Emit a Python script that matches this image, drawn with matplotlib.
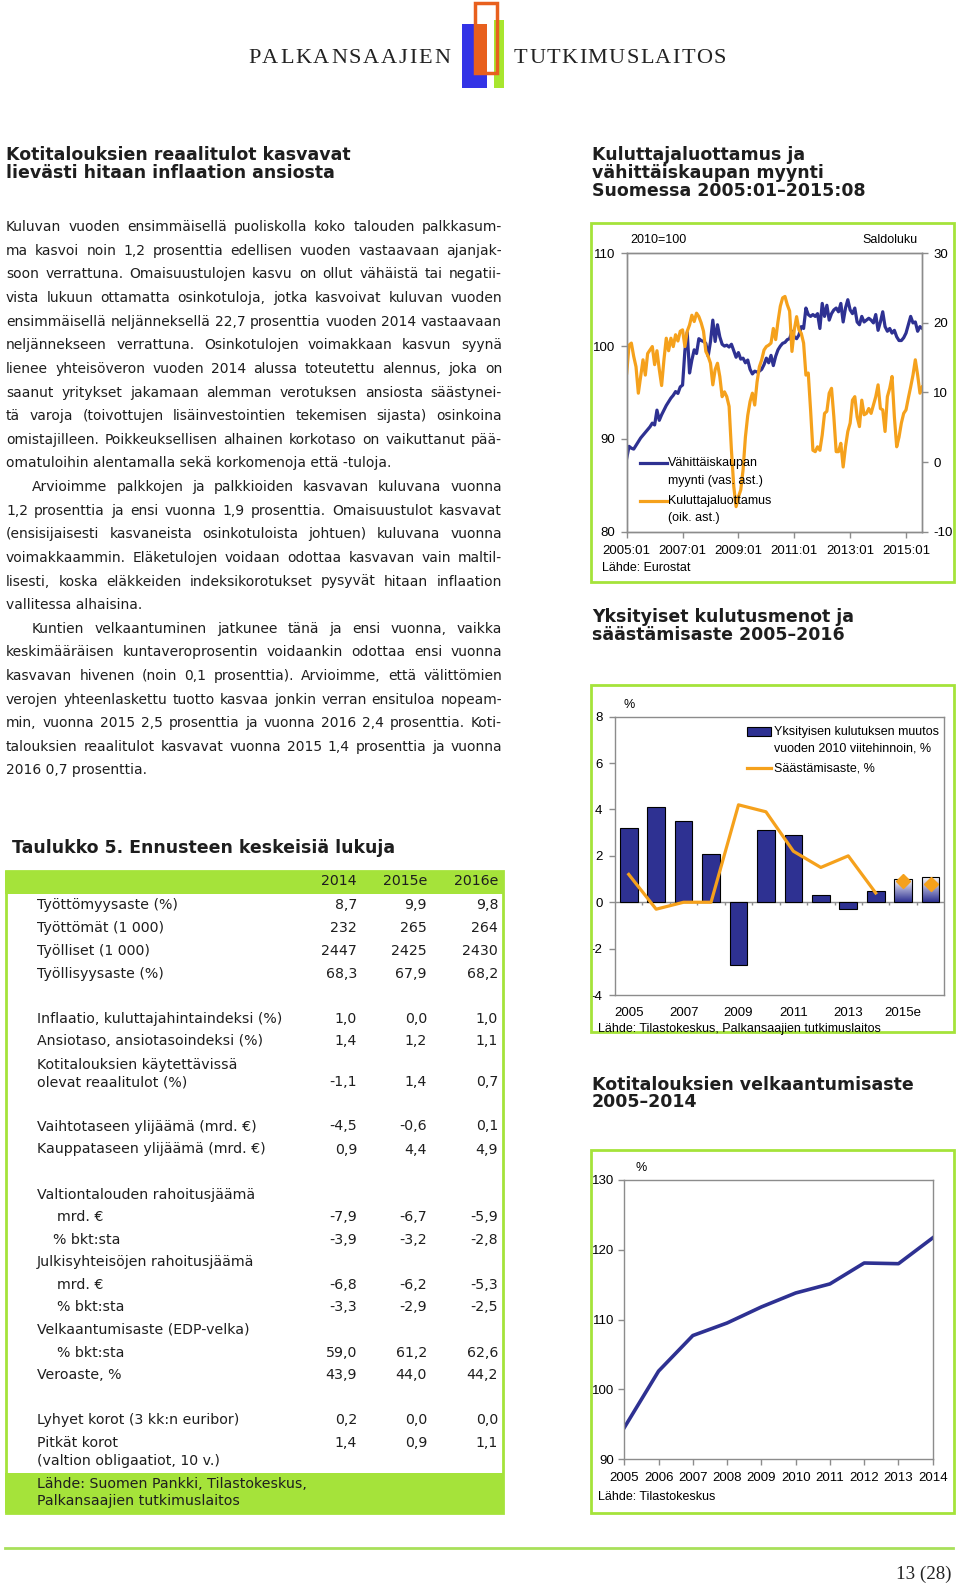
import numpy as np
import matplotlib
matplotlib.use("Agg")
import matplotlib.pyplot as plt
from matplotlib.patches import Rectangle
from matplotlib.lines import Line2D
from matplotlib.colors import LinearSegmentedColormap

plt.rcParams["axes.unicode_minus"] = False

# ---------------- data ----------------
# retail sales volume 2010=100, monthly 2005:01-2015:08
retail = [87.9, 89.2, 89.0, 88.9, 89.3, 89.7, 90.1, 90.4, 90.7, 91.0, 91.3, 91.7,
          91.5, 93.1, 92.0, 92.6, 93.1, 93.6, 94.0, 94.4, 94.7, 95.1, 94.9, 95.6,
          95.8, 99.5, 101.5, 97.1, 98.5, 99.6, 99.2, 100.8, 100.6, 100.5, 100.3, 98.9,
          100.5, 102.8, 100.5, 102.3, 101.0, 100.2, 100.0, 100.1, 99.9, 100.2, 99.5, 98.8,
          99.3, 98.6, 98.7, 98.2, 98.5, 97.5, 97.0, 97.3, 97.2, 97.3, 97.5, 98.0,
          98.7, 98.2, 99.0, 97.9, 98.9, 99.6, 100.0, 100.3, 100.4, 100.7, 100.8, 101.6,
          101.0, 100.8, 101.2, 102.1, 101.9, 104.1, 103.4, 103.2, 103.4, 103.2, 103.5, 101.9,
          104.6, 103.2, 104.4, 102.8, 103.5, 103.9, 104.1, 103.7, 104.6, 102.6, 104.1, 105.0,
          103.9, 103.5, 104.1, 102.6, 102.3, 103.2, 102.6, 102.8, 103.0, 102.8, 102.5, 103.4,
          101.7, 102.6, 103.7, 102.1, 101.6, 101.9, 101.4, 101.7, 101.0, 100.6, 100.6, 100.9,
          101.4, 102.3, 103.2, 102.5, 102.6, 101.6, 102.1, 101.9]
# consumer confidence, balance
confidence = [12.8, 16.8, 17.1, 15.2, 13.7, 9.9, 12.3, 14.7, 12.5, 15.6, 16.1, 16.6,
              14.0, 16.0, 13.3, 11.0, 14.7, 17.8, 16.0, 17.8, 16.6, 18.3, 17.4, 18.8,
              19.0, 16.6, 18.8, 19.7, 21.1, 20.2, 21.4, 20.9, 20.0, 18.8, 15.9, 15.2,
              14.2, 11.1, 13.3, 14.2, 12.3, 9.4, 10.1, 9.4, 8.0, 1.7, -3.5, -6.4,
              -5.0, -4.0, -1.1, 3.6, 6.7, 8.7, 9.9, 8.2, 11.5, 13.7, 14.7, 16.1,
              16.6, 16.8, 17.1, 19.2, 17.6, 20.2, 22.4, 23.6, 23.8, 22.6, 21.7, 15.9,
              19.0, 20.9, 19.0, 18.5, 17.1, 12.5, 12.8, 7.5, 1.7, 1.5, 2.2, 1.7,
              3.9, 7.0, 7.3, 9.9, 10.6, 6.5, 1.5, 1.5, 2.7, -0.7, 2.2, 4.4,
              5.6, 8.9, 9.4, 6.5, 5.1, 8.9, 6.8, 7.0, 7.7, 7.0, 8.2, 9.4,
              11.1, 7.7, 7.5, 4.4, 9.4, 10.6, 12.3, 6.5, 2.2, 3.6, 5.6, 7.0,
              7.5, 9.2, 10.8, 12.5, 14.7, 12.5, 9.9, 10.8]
month_ticks = ["2005:01", "2007:01", "2009:01", "2011:01", "2013:01", "2015:01"]

cons_years = ["2005", "2006", "2007", "2008", "2009", "2010", "2011", "2012",
              "2013", "2014", "2015e", "2016e"]
cons_change = [3.2, 4.1, 3.5, 2.1, -2.7, 3.1, 2.9, 0.3, -0.3, 0.5, 1.0, 1.1]
saving_rate = [1.2, -0.3, 0.0, 0.0, 4.2, 3.9, 2.2, 1.5, 2.0, 0.4]
saving_est = [0.9, 0.8]

debt_years = [2005, 2006, 2007, 2008, 2009, 2010, 2011, 2012, 2013, 2014]
debt_ratio = [94.5, 102.6, 107.7, 109.5, 111.8, 113.8, 115.1, 118.1, 118.0, 121.7]

table_cols = ["2014", "2015e", "2016e"]
table_labels = ["Työttömyysaste (%)", "Työttömät (1 000)", "Työlliset (1 000)",
                "Työllisyysaste (%)", "Inflaatio, kuluttajahintaindeksi (%)",
                "Ansiotaso, ansiotasoindeksi (%)", "Kotitalouksien käytettävissä",
                "olevat reaalitulot (%)", "Vaihtotaseen ylijäämä (mrd. €)",
                "Kauppataseen ylijäämä (mrd. €)", "Valtiontalouden rahoitusjäämä",
                "mrd. €", "% bkt:sta", "Julkisyhteisöjen rahoitusjäämä", "mrd. €",
                "% bkt:sta", "Velkaantumisaste (EDP-velka)", "% bkt:sta", "Veroaste, %",
                "Lyhyet korot (3 kk:n euribor)", "Pitkät korot",
                "(valtion obligaatiot, 10 v.)"]
val_2014 = ["8,7", "232", "2447", "68,3", "1,0", "1,4", "", "-1,1", "-4,5", "0,9", "",
            "-7,9", "-3,9", "", "-6,8", "-3,3", "", "59,0", "43,9", "0,2", "1,4", ""]
val_2015 = ["9,9", "265", "2425", "67,9", "0,0", "1,2", "", "1,4", "-0,6", "4,4", "",
            "-6,7", "-3,2", "", "-6,2", "-2,9", "", "61,2", "44,0", "0,0", "0,9", ""]
val_2016 = ["9,8", "264", "2430", "68,2", "1,0", "1,1", "", "0,7", "0,1", "4,9", "",
            "-5,9", "-2,8", "", "-5,3", "-2,5", "", "62,6", "44,2", "0,0", "1,1", ""]

body_lines = [
    "Kuluvan vuoden ensimmäisellä puoliskolla koko talouden palkkasum-",
    "ma kasvoi noin 1,2 prosenttia edellisen vuoden vastaavaan ajanjak-",
    "soon verrattuna. Omaisuustulojen kasvu on ollut vähäistä tai negatii-",
    "vista lukuun ottamatta osinkotuloja, jotka kasvoivat kuluvan vuoden",
    "ensimmäisellä neljänneksellä 22,7 prosenttia vuoden 2014 vastaavaan",
    "neljännekseen verrattuna. Osinkotulojen voimakkaan kasvun syynä",
    "lienee yhteisöveron vuoden 2014 alussa toteutettu alennus, joka on",
    "saanut yritykset jakamaan alemman verotuksen ansiosta säästynei-",
    "tä varoja (toivottujen lisäinvestointien tekemisen sijasta) osinkoina",
    "omistajilleen. Poikkeuksellisen alhainen korkotaso on vaikuttanut pää-",
    "omatuloihin alentamalla sekä korkomenoja että -tuloja.",
    "Arvioimme palkkojen ja palkkioiden kasvavan kuluvana vuonna",
    "1,2 prosenttia ja ensi vuonna 1,9 prosenttia. Omaisuustulot kasvavat",
    "(ensisijaisesti kasvaneista osinkotuloista johtuen) kuluvana vuonna",
    "voimakkaammin. Eläketulojen voidaan odottaa kasvavan vain maltil-",
    "lisesti, koska eläkkeiden indeksikorotukset pysyvät hitaan inflaation",
    "vallitessa alhaisina.",
    "Kuntien velkaantuminen jatkunee tänä ja ensi vuonna, vaikka",
    "keskimääräisen kuntaveroprosentin voidaankin odottaa ensi vuonna",
    "kasvavan hivenen (noin 0,1 prosenttia). Arvioimme, että välittömien",
    "verojen yhteenlaskettu tuotto kasvaa jonkin verran ensituloa nopeam-",
    "min, vuonna 2015 2,5 prosenttia ja vuonna 2016 2,4 prosenttia. Koti-",
    "talouksien reaalitulot kasvavat vuonna 2015 1,4 prosenttia ja vuonna",
    "2016 0,7 prosenttia.",
]
indent_lines = [11, 17]
last_lines = [10, 16, 23]

# ---------------- page ----------------
W, H = 960, 1583
fig = plt.figure(figsize=(W / 100, H / 100), dpi=100)
fig.patch.set_facecolor("white")
renderer = fig.canvas.get_renderer()

blue = "#2E3192"
orange = "#F5A11C"
lime = "#A5E33A"
frame = "#8C8C8C"
ink = "#1E1E1E"
chart_font, chart_size = "Liberation Sans", 9.5


def fx(x):
    return x / W


def fy(y):
    return 1 - y / H


def txt(x, y, s, **kw):
    return fig.text(fx(x), fy(y), s, **kw)


def rect(x0, y0, x1, y1, **kw):
    r = Rectangle((fx(x0), fy(y1)), (x1 - x0) / W, (y1 - y0) / H,
                  transform=fig.transFigure, **kw)
    fig.add_artist(r)
    return r


def seg(x0, x1, y, **kw):
    fig.add_artist(Line2D([fx(x0), fx(x1)], [fy(y), fy(y)],
                          transform=fig.transFigure, **kw))


def width_px(s, **kw):
    t = fig.text(0, 0, s, **kw)
    w = t.get_window_extent(renderer=renderer).width
    t.remove()
    return w


def add_ax(x0, y0, x1, y1):
    return fig.add_axes([fx(x0), fy(y1), (x1 - x0) / W, (y1 - y0) / H])


def style(ax, pad=4.0):
    for s in ax.spines.values():
        s.set_color(frame)
        s.set_linewidth(1)
    ax.tick_params(direction="out", length=4, width=1, color=frame, pad=pad,
                   labelsize=chart_size, labelcolor="black")
    for lab in ax.get_xticklabels() + ax.get_yticklabels():
        lab.set_family(chart_font)


# logo
rect(462, 24, 487, 88, facecolor="#3333E6", edgecolor="none")
rect(494, 20, 504, 88, facecolor="#A8E62E", edgecolor="none")
rect(475, 3, 497, 73, facecolor="none", edgecolor="#E8601E", lw=2.5)
rect(475, 24, 487, 73, facecolor="#E8601E", edgecolor="none")
logo_kw = dict(family="Liberation Serif", fontsize=16, color="#222222", va="baseline")
for word, x0, x1 in [("PALKANSAAJIEN", 248, 450), ("TUTKIMUSLAITOS", 514, 726)]:
    cw = [width_px(ch, **logo_kw) for ch in word]
    track = (x1 - x0 - sum(cw)) / (len(word) - 1)
    x = x0
    for ch, w in zip(word, cw):
        txt(x, 63, ch, **logo_kw)
        x += w + track

# headings
head_kw = dict(family="DejaVu Sans", fontsize=12.5, fontweight="bold", color=ink, va="baseline")
txt(6, 160, "Kotitalouksien reaalitulot kasvavat", **head_kw)
txt(6, 178, "lievästi hitaan inflaation ansiosta", **head_kw)
txt(592, 160, "Kuluttajaluottamus ja", **head_kw)
txt(592, 178, "vähittäiskaupan myynti", **head_kw)
txt(592, 196, "Suomessa 2005:01–2015:08", **head_kw)
txt(592, 622, "Yksityiset kulutusmenot ja", **head_kw)
txt(592, 640, "säästämisaste 2005–2016", **head_kw)
txt(592, 1090, "Kotitalouksien velkaantumisaste", **head_kw)
txt(592, 1107, "2005–2014", **head_kw)

# body text, justified
body_kw = dict(family="DejaVu Sans", fontsize=10.0, color=ink, va="baseline")
for i, line in enumerate(body_lines):
    yb = 226.7 + i * 23.62 + 4.5
    x0 = 32 if i in indent_lines else 6
    if i in last_lines:
        txt(x0, yb, line, **body_kw)
        continue
    words = line.split(" ")
    ws = [width_px(w, **body_kw) for w in words]
    gap = (502 - x0 - sum(ws)) / (len(words) - 1)
    x = x0
    for w, wd in zip(words, ws):
        txt(x, yb, w, **body_kw)
        x += wd + gap

# table
txt(12, 853, "Taulukko 5. Ennusteen keskeisiä lukuja", **head_kw)
rect(5, 871, 504, 894, facecolor=lime, edgecolor="none")
rect(5, 1473, 504, 1513, facecolor=lime, edgecolor="none")
rect(6, 871, 503, 1513, facecolor="none", edgecolor=lime, lw=2)
tab_kw = dict(family="DejaVu Sans", fontsize=10.2, color=ink, va="baseline")
col_right = [357, 427, 498]
for c, xr in zip(table_cols, col_right):
    txt(xr, 885, c, ha="right", **tab_kw)
row_y = [904.3, 927.5, 950.5, 973.5, 1018.3, 1040.7, 1064, 1081.7, 1126, 1149,
         1194, 1216.7, 1239.3, 1261.7, 1284.3, 1306.7, 1329.3, 1352.3, 1374.3,
         1419.3, 1442.7, 1460]
row_x = [36.7] * len(table_labels)
for k in (11, 14, 15, 17):
    row_x[k] = 57
row_x[12] = 52.7
for lab, y, x, a, b, c in zip(table_labels, row_y, row_x, val_2014, val_2015, val_2016):
    txt(x, y + 4.5, lab, **tab_kw)
    for v, xr in zip((a, b, c), col_right):
        if v:
            txt(xr, y + 4.5, v, ha="right", **tab_kw)
txt(36.7, 1487.8, "Lähde: Suomen Pankki, Tilastokeskus,", **tab_kw)
txt(36.7, 1505.2, "Palkansaajien tutkimuslaitos", **tab_kw)

# footer
seg(5, 953, 1548, color="#A8E05A", lw=2)
txt(952, 1579, "13 (28)", family="Liberation Serif", fontsize=13.6, ha="right",
    va="baseline", color="#222222")

lab_kw = dict(family=chart_font, fontsize=9, color="black", va="center")

# ---------------- chart 1 ----------------
rect(591, 223, 954, 582, facecolor="none", edgecolor=lime, lw=2)
months = np.arange(len(retail))
ax1 = add_ax(626.7, 253.3, 922.3, 531.7)
ax1b = ax1.twinx()
ax1.plot(months, retail, color=blue, lw=2.3)
ax1b.plot(months, confidence, color=orange, lw=2.3)
ax1.set_xlim(0, len(retail) - 1)
ax1.set_ylim(80, 110)
ax1b.set_ylim(-10, 30)
ax1.set_yticks([80, 90, 100, 110])
ax1b.set_yticks([-10, 0, 10, 20, 30])
ax1.set_xticks(np.arange(0, len(retail), 24))
ax1.set_xticklabels(month_ticks)
style(ax1)
style(ax1b)
ax1.tick_params(axis="x", pad=5.5)
txt(630, 240, "2010=100", **lab_kw)
txt(918, 240, "Saldoluku", ha="right", **lab_kw)
txt(602, 568, "Lähde: Eurostat", **lab_kw)
seg(640, 667, 463.3, color=blue, lw=2.3)
txt(668, 463.3, "Vähittäiskaupan", **lab_kw)
txt(668, 481, "myynti (vas. ast.)", **lab_kw)
seg(640, 667, 501, color=orange, lw=2.3)
txt(668, 501, "Kuluttajaluottamus", **lab_kw)
txt(668, 518.3, "(oik. ast.)", **lab_kw)

# ---------------- chart 2 ----------------
rect(591, 685, 954, 1032, facecolor="none", edgecolor=lime, lw=2)
ax2 = add_ax(615, 716.7, 944.3, 995)
xpos = np.arange(len(cons_years))
bw = 0.645
bars = ax2.bar(xpos, cons_change, width=bw, color=blue, edgecolor="black", lw=0.8, zorder=3)
grad = LinearSegmentedColormap.from_list("grad", [blue, "white"])
for i in (10, 11):
    b = bars[i]
    b.set_facecolor("none")
    im = ax2.imshow(np.linspace(0, 1, 64).reshape(-1, 1), cmap=grad, origin="lower",
                    aspect="auto", extent=(xpos[i] - bw / 2, xpos[i] + bw / 2, 0, cons_change[i]),
                    zorder=2.5)
    im.set_clip_path(b)
ax2.axhline(0, color=frame, lw=1, zorder=2)
ax2.vlines(xpos[:-1] + 0.5, -0.12, 0, color=frame, lw=1, zorder=2)
ax2.plot(xpos[:len(saving_rate)], saving_rate, color=orange, lw=2.3, zorder=4)
ax2.plot(xpos[len(saving_rate):], saving_est, ls="none", marker="D", ms=7,
         color=orange, zorder=5)
ax2.set_xlim(-0.5, len(cons_years) - 0.5)
ax2.set_ylim(-4, 8)
ax2.set_yticks(np.arange(-4, 9, 2))
ax2.set_xticks(xpos[::2])
ax2.set_xticklabels(cons_years[::2])
style(ax2, pad=5.0)
ax2.tick_params(axis="x", length=0, pad=9)
txt(623, 705, "%", **lab_kw)
rect(747.3, 726.7, 770.7, 735.7, facecolor=blue, edgecolor="black", lw=0.8)
txt(774, 731.7, "Yksityisen kulutuksen muutos", **lab_kw)
txt(774, 748.3, "vuoden 2010 viitehinnoin, %", **lab_kw)
seg(747.3, 770.7, 768.3, color=orange, lw=2.3)
txt(774, 768.3, "Säästämisaste, %", **lab_kw)
txt(598, 1029, "Lähde: Tilastokeskus, Palkansaajien tutkimuslaitos", **lab_kw)

# ---------------- chart 3 ----------------
rect(591, 1150, 954, 1513, facecolor="none", edgecolor=lime, lw=2)
ax3 = add_ax(624.3, 1180, 932.7, 1459)
ax3.plot(debt_years, debt_ratio, color=blue, lw=2.6)
ax3.set_xlim(debt_years[0], debt_years[-1])
ax3.set_ylim(90, 130)
ax3.set_yticks(np.arange(90, 131, 10))
ax3.set_xticks(debt_years)
style(ax3, pad=3.5)
ax3.tick_params(axis="x", pad=5.5)
txt(635, 1168.3, "%", **lab_kw)
txt(598, 1497, "Lähde: Tilastokeskus", **lab_kw)

fig.savefig("out.png", dpi=100, facecolor="white")
